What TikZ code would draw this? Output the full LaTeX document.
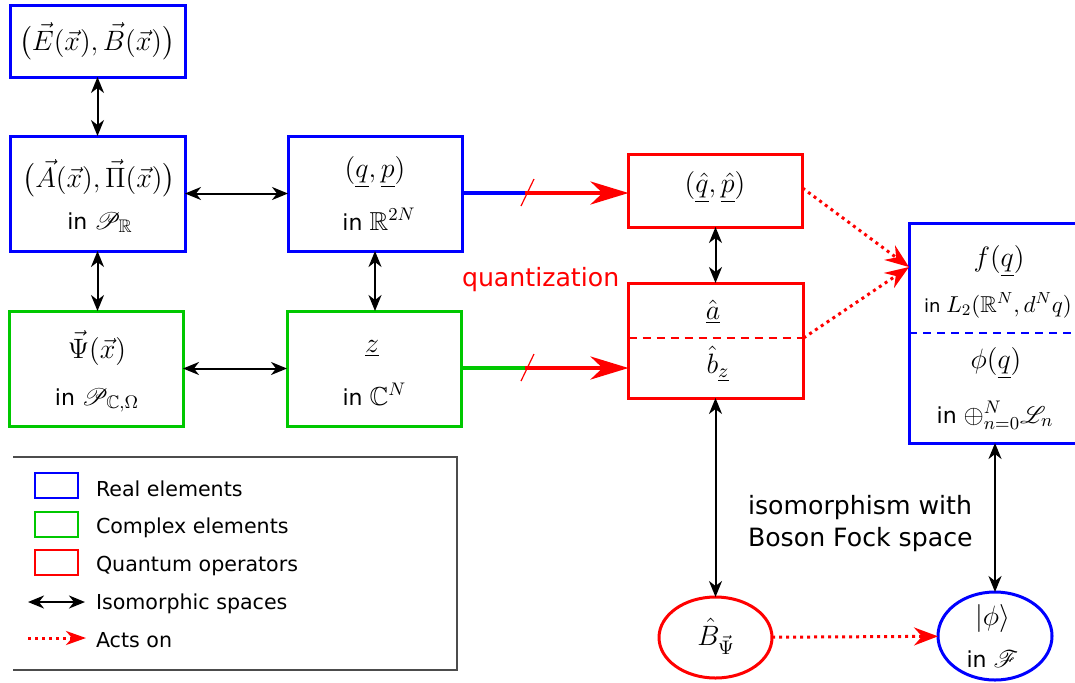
\RequirePackage{fix-cm}
\documentclass[tikz,border=0pt]{standalone}
\usepackage{amsmath,amssymb,mathrsfs}
\usepackage[no-math]{fontspec}
\setmainfont{DejaVu Sans}
\usetikzlibrary{arrows.meta,calc,shapes.geometric}
\definecolor{myblue}{RGB}{0,0,255}
\definecolor{mygreen}{RGB}{0,200,0}
\definecolor{myred}{RGB}{255,0,0}
\newcommand\szM{\fontsize{14}{16}\selectfont}
\newcommand\szIn{\fontsize{11}{13}\selectfont}
\newcommand\szInM{\fontsize{13}{15}\selectfont}
\newcommand\szSmall{\fontsize{9}{11}\selectfont}
\newcommand\szSmallM{\fontsize{11.5}{13}\selectfont}
\newcommand\szLeg{\fontsize{10.3}{12}\selectfont}
\newcommand\szLab{\fontsize{12.6}{15}\selectfont}
\begin{document}
\begin{tikzpicture}[x=0.5pt,y=-0.5pt,
  every node/.style={inner sep=0pt,outer sep=0pt},
  rbox/.style={draw=#1,line width=1.5pt,rectangle},
  iso/.style={{Stealth[length=8pt,width=6.5pt,inset=2.5pt]}-{Stealth[length=8pt,width=6.5pt,inset=2.5pt]},line width=1pt},
  acts/.style={myred,line width=1.5pt,dash pattern=on 1.5pt off 2pt,-{Stealth[length=12pt,width=9pt,inset=4pt]}},
  quant/.style={myred,line width=2pt,-{Stealth[length=19pt,width=11.5pt,inset=6pt]}},
  slash/.style={myred,line width=0.6pt},
  txt/.style={anchor=base}]
\useasboundingbox (0,0) rectangle (1075,682);

% boxes
\node[rbox=myblue,minimum width=87.5pt,minimum height=36pt] (E) at (97.5,41) {};
\node[rbox=myblue,minimum width=87.5pt,minimum height=57.5pt] (A) at (97.5,193.5) {};
\node[rbox=myblue,minimum width=87pt,minimum height=57.5pt] (qp) at (375,193.5) {};
\node[rbox=mygreen,minimum width=87pt,minimum height=57.5pt] (Psi) at (96,368.5) {};
\node[rbox=mygreen,minimum width=87pt,minimum height=57.5pt] (z) at (374,368.5) {};
\node[rbox=myred,minimum width=87pt,minimum height=36.5pt] (qhat) at (715.5,190.5) {};
\node[rbox=myred,minimum width=87.5pt,minimum height=57.5pt] (ab) at (716,340.5) {};
\node[rbox=myblue,minimum width=84.5pt,minimum height=110pt] (f) at (993.5,333) {};
\node[draw=myred,line width=1.5pt,ellipse,minimum width=56.5pt,minimum height=40.5pt] (B) at (715.5,637.5) {};
\node[draw=myblue,line width=1.5pt,ellipse,minimum width=57pt,minimum height=44pt] (phi) at (995,636) {};

% inner dashed separators
\draw[myred,line width=1pt,dash pattern=on 4pt off 3pt] ($(ab.west)+(0,-2.5)$) -- ($(ab.east)+(0,-2.5)$);
\draw[myblue,line width=0.7pt,dash pattern=on 4pt off 3pt] (f.west) -- (f.east);

% texts
\node[txt] (tE) at (97,50) {\szM$\bigl(\vec E(\vec x),\vec B(\vec x)\bigr)$};
\node[txt] (tA) at (99,187) {\szM$\bigl(\vec A(\vec x),\vec \Pi(\vec x)\bigr)$};
\node[txt] (tA2) at (100,229) {\szIn in \szInM$\mathscr{P}_{\mathbb{R}}$};
\node[txt] (tqp) at (375,177) {\szM$(\underline{q},\underline{p})$};
\node[txt] (tqp2) at (379,230) {\szIn in \szInM$\mathbb{R}^{2N}$};
\node[txt] (tPsi) at (97,358) {\szM$\vec\Psi(\vec x)$};
\node[txt] (tPsi2) at (97,405) {\szIn in \szInM$\mathscr{P}_{\mathbb{C},\Omega}$};
\node[txt] (tz) at (372,352) {\szM$\underline{z}$};
\node[txt] (tz2) at (374.5,405) {\szIn in \szInM$\mathbb{C}^{N}$};
\node[txt] (tqh) at (715,192) {\szM$(\underline{\hat q},\underline{\hat p})$};
\node[txt] (ta) at (713,319) {\szM$\underline{\hat a}$};
\node[txt] (tb) at (718,373) {\szM$\hat b_{\underline{z}}$};
\node[txt] (tf) at (999,266) {\szM$f(\underline{q})$};
\node[txt] (tf2) at (998,312) {\szSmall in \szSmallM$L_2(\mathbb{R}^N,d^Nq)$};
\node[txt] (tphi) at (996,368) {\szM$\phi(\underline{q})$};
\node[txt] (tphi2) at (995,423) {\szIn in \szInM$\oplus_{n=0}^{N}\mathscr{L}_n$};
\node[txt] (tB) at (716,645) {\szM$\hat B_{\vec\Psi}$};
\node[txt] (tk) at (992.5,625) {\szM$|\phi\rangle$};
\node[txt] (tk2) at (992.5,667) {\szIn in \szInM$\mathscr{F}$};

% isomorphism arrows
\draw[iso] (E) -- (A);
\draw[iso] (A) -- (qp);
\draw[iso] (A.south) -- (A.south |- Psi.north);
\draw[iso] (qp.south) -- (qp.south |- z.north);
\draw[iso] (Psi) -- (z);
\draw[iso] (qhat.south) -- (qhat.south |- ab.north);
\draw[iso] (B.north |- ab.south) -- (B.north);
\draw[iso] (phi.north |- f.south) -- (phi.north);

% quantization arrows
\coordinate (q1) at (525,193);
\draw[myblue,line width=2pt] (qp.east |- q1) -- (q1);
\draw[quant] (q1) -- (q1 -| qhat.west);
\draw[slash] ($(q1)+(-4,13)$) -- ($(q1)+(9,-14)$);
\coordinate (q2) at (525,368);
\draw[mygreen,line width=2pt] (z.east |- q2) -- (q2);
\draw[quant] (q2) -- (q2 -| ab.west);
\draw[slash] ($(q2)+(-4,13)$) -- ($(q2)+(9,-14)$);
\node[anchor=base west,text=myred] (quant) at (462,286) {\szLab quantization};

% acts on arrows
\coordinate (fin) at ($(f.north west)!0.2!(f.south west)$);
\draw[acts] ($(qhat.east)+(0,-2.5)$) -- (fin);
\draw[acts] ($(ab.east)+(0,-2.5)$) -- (fin);
\draw[acts] (B) -- (phi);

\node[anchor=base west] (iso1) at (748,514) {\szLab isomorphism with};
\node[anchor=base west] (iso2) at (748,546) {\szLab Boson Fock space};

% legend
\draw[black!70,line width=0.6pt] (13,457) -- (457,457) -- (457,670) -- (13,670);
\node[rbox=myblue,line width=1.2pt,minimum width=21.5pt,minimum height=12.5pt] (l1) at (56.5,485.5) {};
\node[rbox=mygreen,line width=1.2pt,minimum width=21.5pt,minimum height=12.5pt] (l2) at (56.5,524.5) {};
\node[rbox=myred,line width=1.2pt,minimum width=21.5pt,minimum height=12.5pt] (l3) at (56.5,562.5) {};
\coordinate (la) at (28,602);
\coordinate (lb) at (85,602);
\draw[iso] (la) -- (lb);
\coordinate (lc) at (28,638);
\coordinate (ld) at (86,638);
\draw[myred,line width=1.5pt,dash pattern=on 1.5pt off 2pt,-{Stealth[length=10pt,width=7pt,inset=3pt]}] (lc) -- (ld);
\node[anchor=base west] (t1) at (96,496) {\szLeg Real elements};
\node[anchor=base west] (t2) at (96,533) {\szLeg Complex elements};
\node[anchor=base west] (t3) at (96,571) {\szLeg Quantum operators};
\node[anchor=base west] (t4) at (96,609) {\szLeg Isomorphic spaces};
\node[anchor=base west] (t5) at (96,647) {\szLeg Acts on};
\end{tikzpicture}
\end{document}
